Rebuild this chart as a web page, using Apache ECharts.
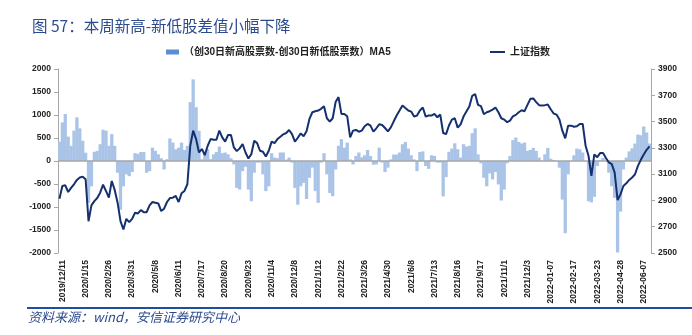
<!DOCTYPE html>
<html><head><meta charset="utf-8">
<script src="https://cdn.jsdelivr.net/npm/echarts@6/dist/echarts.min.js"></script>
<style>html,body{margin:0;padding:0;background:#fff}#c{width:692px;height:335px}</style>
</head><body><div id="c"></div>
<script>
const tickLabels = ['2019/12/11','2020/1/15','2020/2/26','2020/3/31','2020/5/8','2020/6/11','2020/7/17','2020/8/20','2020/9/23','2020/11/4','2020/12/8','2021/1/12','2021/2/22','2021/3/26','2021/4/30','2021/6/8','2021/7/13','2021/8/16','2021/9/17','2021/11/1','2021/12/3','2022-01-07','2022-02-17','2022-03-23','2022-04-28','2022-06-07'];

// (创30日新高股票数-创30日新低股票数) MA5, sampled every 3 trading days
const diffMA5 = [
 420,840,1020,530,330,660,950,710,440,180,
 -910,-550,200,220,365,680,660,330,585,330,
 -255,-1060,-550,-290,-330,-240,170,155,195,195,
 -255,-220,290,220,145,60,-185,40,490,400,
 255,290,400,240,330,1280,1775,1170,655,40,
 185,255,40,145,195,315,170,185,145,60,
 -75,-585,-620,-220,-125,-620,-875,-255,-35,-35,
 -290,-655,-550,170,75,60,185,185,30,75,
 -35,-585,-950,-550,-475,-825,-365,-145,-655,-910,
 -35,170,-290,-695,-765,-185,330,475,290,400,
 35,-75,110,185,80,125,240,110,-80,-75,
 290,-35,-240,-145,35,140,140,185,365,415,
 270,125,35,-220,195,210,-110,-170,125,110,
 -35,-35,-770,-350,200,270,385,255,75,365,
 315,330,605,710,145,-50,-365,-550,-270,-400,
 -240,-510,-860,-620,-50,110,455,510,415,380,
 400,220,240,285,220,75,5,145,285,50,
 20,-5,-145,-840,-1570,-290,-5,125,270,255,
 185,-5,-875,-900,-780,-110,20,65,0,-255,
 -550,-800,-1990,-1100,-185,75,210,275,380,575,
 560,750,620,380
];

// 上证指数
const shIndex = [
 2913,3010,3015,2964,2995,3023,3056,3074,3081,3061,
 2742,2862,2895,2918,2959,3020,2972,2921,3048,2980,
 2883,2742,2679,2760,2735,2760,2806,2801,2826,2811,
 2811,2862,2888,2883,2877,2819,2837,2888,2918,2921,
 2934,2888,2954,2972,3023,3316,3431,3367,3265,3291,
 3245,3316,3367,3362,3362,3431,3380,3347,3398,3398,
 3303,3275,3296,3329,3265,3219,3252,3354,3336,3278,
 3270,3234,3278,3347,3336,3367,3385,3403,3413,3436,
 3405,3347,3377,3410,3388,3426,3520,3571,3579,3584,
 3597,3617,3525,3500,3525,3648,3686,3558,3558,3540,
 3380,3431,3436,3423,3431,3464,3482,3469,3423,3449,
 3479,3474,3451,3426,3456,3502,3546,3584,3622,3604,
 3584,3576,3538,3546,3584,3607,3538,3546,3546,3558,
 3533,3553,3413,3405,3470,3515,3525,3454,3479,3538,
 3576,3614,3696,3709,3627,3617,3556,3571,3579,3591,
 3607,3571,3525,3515,3495,3507,3540,3551,3571,3586,
 3579,3627,3673,3676,3648,3625,3622,3625,3630,3594,
 3561,3553,3515,3431,3372,3469,3469,3461,3464,3482,
 3482,3316,3240,3087,3250,3229,3260,3260,3222,3189,
 3176,3112,2903,2946,3010,3030,3056,3074,3099,3163,
 3209,3250,3285,3311
];

const categories = diffMA5.map((_, i) => ((i - 1) % 8 === 0 && tickLabels[(i - 1) / 8]) ? tickLabels[(i - 1) / 8] : ('d' + i));
const barName = '（创30日新高股票数-创30日新低股票数）MA5';
const lineName = '上证指数';

const chart = echarts.init(document.getElementById('c'), null, {renderer: 'canvas'});
const axisFont = {fontSize: 8.5, fontWeight: 'bold', color: '#222', fontFamily: 'Liberation Sans, Arial, sans-serif'};
const legendText = {fontSize: 10, fontWeight: 'bold', color: '#222', fontFamily: 'Liberation Sans, Noto Sans CJK SC, sans-serif'};
const plain = (v) => String(v);
chart.setOption({
  animation: false,
  backgroundColor: '#fff',
  title: {
    text: '图 57：本周新高-新低股差值小幅下降',
    left: 27, top: 13,
    textStyle: {fontSize: 15.5, fontWeight: 'normal', color: '#2b4b8e', fontFamily: 'Noto Sans CJK SC, sans-serif'}
  },
  legend: [
    {data: [{name: barName, icon: 'rect', itemStyle: {color: '#5b8fd3'}}], left: 161, top: 42, itemWidth: 13, itemHeight: 5, textStyle: legendText, selectedMode: false},
    {data: [{name: lineName, icon: 'rect'}], left: 485, top: 42, itemWidth: 15, itemHeight: 2, textStyle: legendText, selectedMode: false}
  ],
  grid: {left: 58, right: 41, top: 69, bottom: 82},
  xAxis: {
    type: 'category', data: categories, boundaryGap: true,
    axisLine: {show: false, onZero: false}, axisTick: {show: false},
    axisLabel: Object.assign({interval: (idx) => (idx - 1) % 8 === 0, rotate: 90, margin: 7}, axisFont),
    splitLine: {show: false}
  },
  yAxis: [
    {type: 'value', position: 'left', min: -2000, max: 2000, interval: 500,
     axisLine: {show: true, lineStyle: {color: '#a6a6a6', width: 1}},
     axisTick: {show: true, length: 4, lineStyle: {color: '#a6a6a6'}},
     axisLabel: Object.assign({margin: 7, formatter: plain}, axisFont), splitLine: {show: false}},
    {type: 'value', position: 'right', min: 2500, max: 3900, interval: 200,
     axisLine: {show: true, lineStyle: {color: '#a6a6a6', width: 1}},
     axisTick: {show: true, length: 4, lineStyle: {color: '#a6a6a6'}},
     axisLabel: Object.assign({margin: 7, formatter: plain}, axisFont), splitLine: {show: false}}
  ],
  series: [
    {name: barName, type: 'bar', data: diffMA5, yAxisIndex: 0, barWidth: 3.3,
     itemStyle: {color: '#aac4e7'},
     markLine: {silent: true, symbol: ['none', 'none'], label: {show: false},
       lineStyle: {color: '#a6a6a6', width: 1.5, type: 'solid'}, data: [{yAxis: 0}]}},
    {name: lineName, type: 'line', data: shIndex, yAxisIndex: 1, showSymbol: false, symbol: 'none',
     lineStyle: {color: '#14306e', width: 2}, itemStyle: {color: '#14306e'}, z: 5}
  ],
  graphic: [
    {type: 'line', shape: {x1: 27, y1: 308, x2: 692, y2: 308}, style: {stroke: '#1f4e9a', lineWidth: 2}},
    {type: 'text', left: 28, top: 311, style: {text: '资料来源：wind，安信证券研究中心', fill: '#2b4b8e', fontSize: 13, fontStyle: 'italic', fontFamily: 'Noto Sans CJK SC, sans-serif'}}
  ]
});
</script></body></html>
